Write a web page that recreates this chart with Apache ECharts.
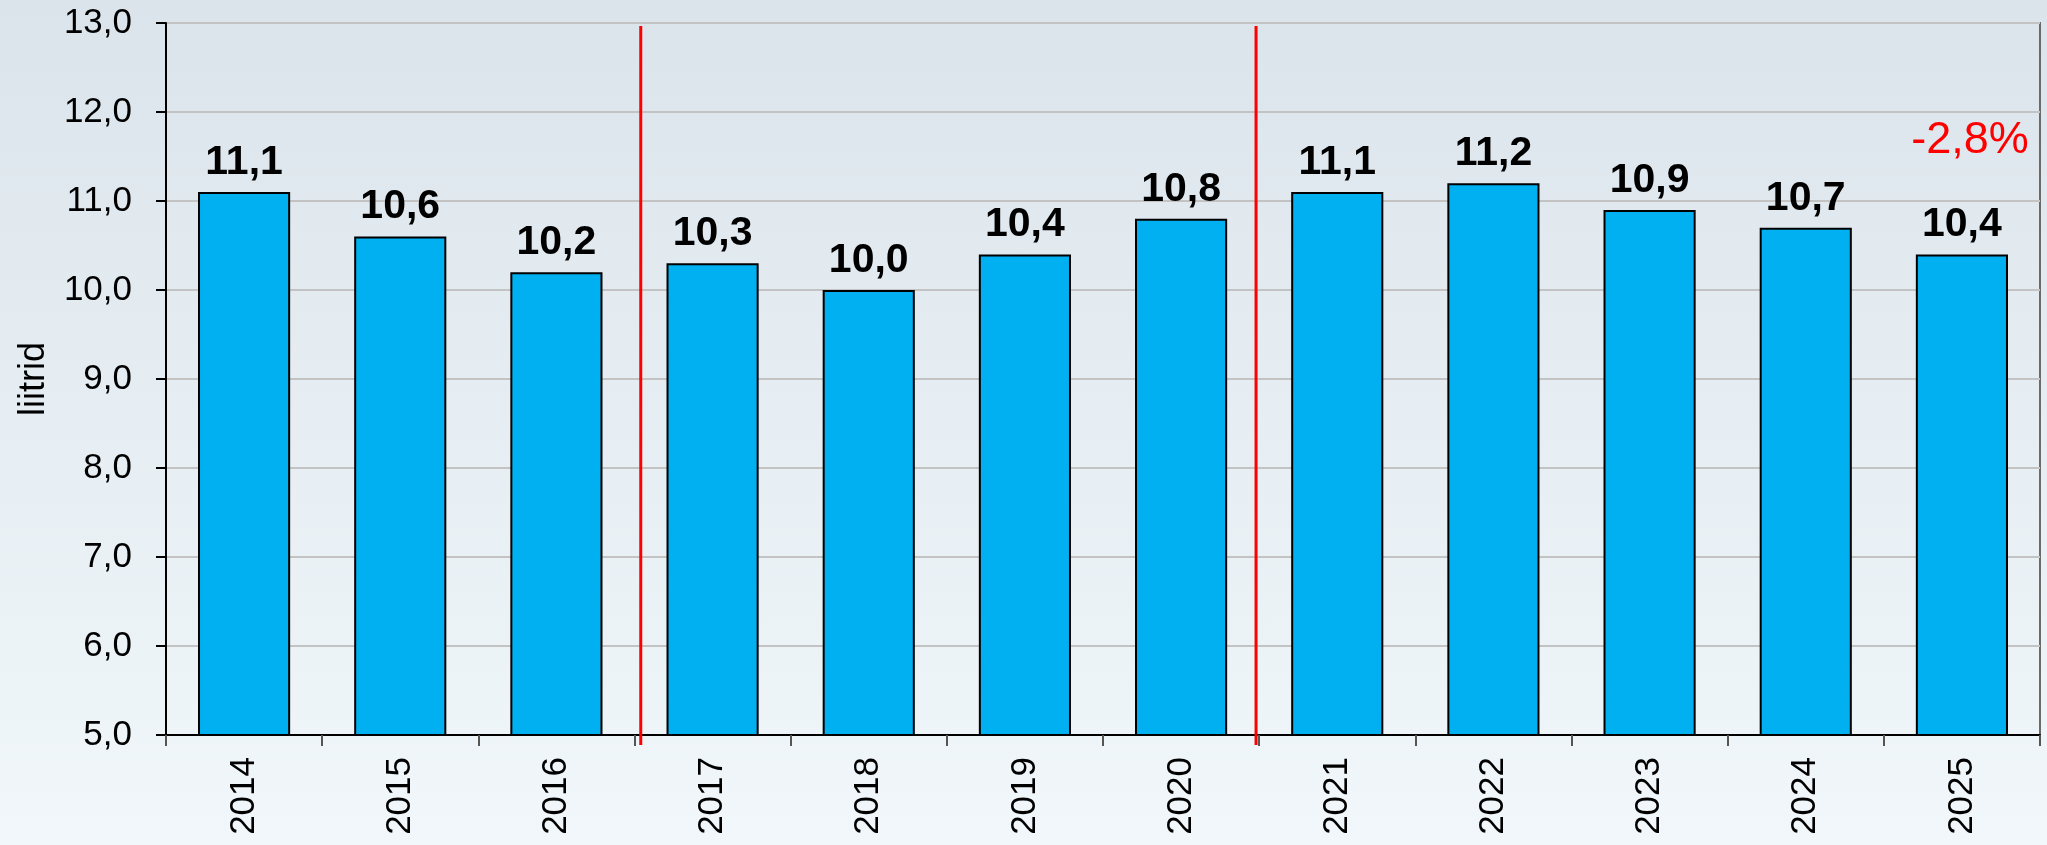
<!DOCTYPE html>
<html>
<head>
<meta charset="utf-8">
<style>
    html, body { margin: 0; padding: 0; }
    body { width: 2047px; height: 845px; background: linear-gradient(to bottom, #dbe4eb 0%, #e6eef3 50%, #f1f7fa 100%); }
    #main { width: 2047px; height: 845px; }
</style>
<script src="https://cdn.jsdelivr.net/npm/echarts@6/dist/echarts.min.js"></script>
</head>
<body>
<div id="main"></div>
<script>
// aastad ja väärtused
var years = ['2014', '2015', '2016', '2017', '2018', '2019', '2020', '2021', '2022', '2023', '2024', '2025'];
var liitrid = [11.1, 10.6, 10.2, 10.3, 10.0, 10.4, 10.8, 11.1, 11.2, 10.9, 10.7, 10.4];
// punased eraldusjooned (kategooria indeksi skaalal)
var separators = [2.54, 6.48];
var changeText = '-2,8%';
var changeAt = ['2025', 11.68];
var yMin = 5, yMax = 13, yStep = 1;

function comma(v) {
    return Number(v).toFixed(1).replace('.', ',');
}

var myChart = echarts.init(document.getElementById('main'));

var option = {
    animation: false,
    textStyle: { fontFamily: 'Liberation Sans, Arial, sans-serif' },
    grid: {
        left: 166, right: 7, top: 23, bottom: 110,
        show: true, borderColor: '#6a6a6a', borderWidth: 2, backgroundColor: 'transparent'
    },
    xAxis: [
        {
            type: 'category',
            data: years,
            axisLine: { lineStyle: { color: '#000', width: 2 } },
            axisTick: { show: true, length: 11, lineStyle: { color: '#555', width: 2 } },
            axisLabel: { rotate: 90, margin: 22, fontSize: 35, color: '#000' }
        },
        {
            type: 'value',
            min: -0.5, max: 11.5,
            show: false
        }
    ],
    yAxis: {
        type: 'value',
        min: yMin, max: yMax, interval: yStep,
        name: 'liitrid',
        nameLocation: 'middle',
        nameGap: 114,
        nameRotate: 90,
        nameTextStyle: { fontSize: 36, color: '#000' },
        axisLine: { show: true, onZero: false, lineStyle: { color: '#000', width: 2 } },
        axisTick: { show: true, length: 10, lineStyle: { color: '#000', width: 2 } },
        axisLabel: { fontSize: 35, color: '#000', margin: 34, formatter: comma },
        splitLine: { lineStyle: { color: '#c3c3c3', width: 2 } }
    },
    series: [
        {
            name: 'liitrid',
            type: 'bar',
            data: liitrid,
            barWidth: '59%',
            itemStyle: { color: '#00b0f0', borderColor: '#000', borderWidth: 2 },
            label: {
                show: true, position: 'top', distance: 9,
                fontSize: 41, fontWeight: 'bold', color: '#000',
                formatter: function (p) { return comma(p.value); }
            },
            markPoint: {
                symbol: 'rect',
                symbolSize: 1,
                itemStyle: { color: 'rgba(0,0,0,0)' },
                label: {
                    show: true, position: 'inside', offset: [8, 0],
                    fontSize: 45, color: '#ff0000',
                    formatter: changeText
                },
                data: [{ coord: changeAt, value: changeText }]
            },
            z: 3
        },
        {
            type: 'custom',
            xAxisIndex: 1,
            data: separators,
            clip: false,
            z: 5,
            renderItem: function (params, api) {
                var top = api.coord([api.value(0), yMax]);
                var bottom = api.coord([api.value(0), yMin]);
                return {
                    type: 'line',
                    shape: { x1: top[0], y1: top[1] + 3, x2: bottom[0], y2: bottom[1] + 10 },
                    style: { stroke: '#ff0000', lineWidth: 3 }
                };
            }
        }
    ]
};

myChart.setOption(option);
</script>
</body>
</html>
